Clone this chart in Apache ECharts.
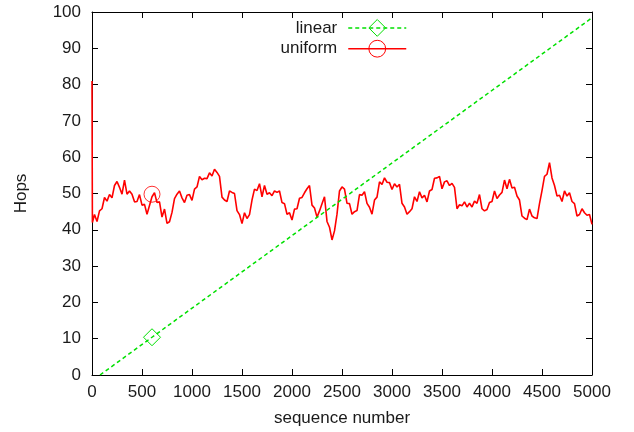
<!DOCTYPE html>
<html>
<head>
<meta charset="utf-8">
<script src="https://cdn.jsdelivr.net/npm/echarts@6/dist/echarts.min.js"></script>
<style>
html,body{margin:0;padding:0;background:#fff;}
#chart{width:634px;height:432px;}
</style>
</head>
<body>
<div id="chart"></div>
<script>
// ---- data ----
var xTicks = [0, 500, 1000, 1500, 2000, 2500, 3000, 3500, 4000, 4500, 5000];
var yTicks = [0, 10, 20, 30, 40, 50, 60, 70, 80, 90, 100];

// linear series: straight line (endpoints + marked point)
var linearSeq = [80, 600, 5000];
var linearHops = [0, 10.4, 98.4];
var linearMarkIndex = 1;

// uniform series: initial spike then samples every 25 sequence numbers
var uniformSpikeSeq = [0, 4];
var uniformSpikeHops = [81, 42];
var uniformStep = 25;
var uniformHops = [
44.2,42.3,45.2,45.8,48.9,47.9,49.7,48.8,52.2,53.3,51.7,49.8,53.7,49.8,50.7,49.8,
47.7,47.8,49.7,46.8,47.0,44.3,46.7,49.1,50.2,47.5,47.7,43.5,45.7,41.8,42.2,44.8,
48.6,49.8,50.7,48.8,47.5,49.5,49.7,48.1,51.2,51.8,54.7,53.8,54.2,54.1,55.7,54.8,
56.7,55.8,54.7,49.0,48.2,47.8,50.7,50.3,50.0,45.3,44.2,41.7,44.7,43.1,44.2,48.2,
51.2,50.8,52.7,49.1,52.2,49.8,50.2,49.4,50.7,50.3,50.7,47.5,47.2,44.3,44.7,42.7,
45.7,45.8,48.7,48.9,50.2,51.3,52.2,46.8,46.0,43.5,45.2,47.2,49.1,42.3,40.7,37.2,
39.7,44.3,50.7,51.8,51.2,47.3,47.2,44.3,45.0,45.3,49.7,49.5,50.5,47.3,46.2,44.3,
48.2,49.0,53.2,52.5,54.3,53.1,53.0,51.1,52.7,51.8,52.5,47.3,46.3,44.3,45.0,45.8,
49.1,47.8,50.5,48.8,49.5,47.7,50.7,51.1,54.2,54.3,54.7,51.3,53.2,53.5,52.2,52.8,
51.7,45.8,46.9,46.6,47.7,46.3,47.3,46.3,47.9,47.3,49.7,45.8,45.2,45.6,47.5,47.8,
50.7,48.6,49.6,50.3,53.7,51.3,53.9,51.5,51.7,49.3,48.2,43.8,43.2,42.8,45.7,43.8,
43.3,43.1,47.2,50.8,54.7,55.3,58.5,54.3,52.2,49.3,49.5,47.8,50.7,49.3,50.2,47.8,
47.2,43.8,44.2,45.8,44.7,44.0,44.2,41.5
];
var uniformMarkSeq = 600;
var uniformMarkHops = 49.8;

// ---- build series data ----
var linearData = linearSeq.map(function (s, i) {
  var item = { value: [s, linearHops[i]] };
  if (i !== linearMarkIndex) item.symbol = 'none';
  return item;
});

var uniformData = [];
uniformSpikeSeq.forEach(function (s, i) {
  uniformData.push({ value: [s, uniformSpikeHops[i]], symbol: 'none' });
});
uniformHops.forEach(function (v, i) {
  var s = (i + 1) * uniformStep;
  uniformData.push({ value: [s, v], symbol: 'none' });
});
var uniformMarkData = [{ value: [uniformMarkSeq, uniformMarkHops] }];

var FONT = 'Liberation Sans';
var txt = { fontFamily: FONT, fontSize: 17, color: '#1a1a1a' };
var plain = function (v) { return String(v); };

var chart = echarts.init(document.getElementById('chart'), null, { renderer: 'canvas' });
chart.setOption({
  animation: false,
  backgroundColor: '#ffffff',
  grid: { left: 92, right: 42, top: 12, bottom: 56, containLabel: false },
  legend: {
    orient: 'vertical',
    align: 'right',
    right: 222,
    top: 14,
    itemWidth: 58,
    itemHeight: 21,
    itemGap: 3,
    itemStyle: { borderWidth: 1 },
    lineStyle: { width: 1.5 },
    textStyle: Object.assign({ padding: [0, 6, 0, 0] }, txt),
    data: ['linear', 'uniform']
  },
  xAxis: [{
    type: 'value', min: 0, max: 5000, interval: 500,
    name: 'sequence number', nameLocation: 'middle', nameGap: 35,
    nameTextStyle: txt,
    axisLine: { show: true, lineStyle: { color: '#000', width: 1 } },
    axisTick: { show: true, inside: true, length: 6, lineStyle: { color: '#000' } },
    axisLabel: Object.assign({ margin: 9, formatter: plain }, txt),
    splitLine: { show: false }
  }, {
    type: 'value', min: 0, max: 5000, interval: 500, position: 'top',
    axisLine: { show: true, onZero: false, lineStyle: { color: '#000', width: 1 } },
    axisTick: { show: true, inside: true, length: 6, lineStyle: { color: '#000' } },
    axisLabel: { show: false },
    splitLine: { show: false }
  }],
  yAxis: [{
    type: 'value', min: 0, max: 100, interval: 10,
    name: 'Hops', nameLocation: 'middle', nameGap: 62, nameRotate: 90,
    nameTextStyle: txt,
    axisLine: { show: true, lineStyle: { color: '#000', width: 1 } },
    axisTick: { show: true, inside: true, length: 6, lineStyle: { color: '#000' } },
    axisLabel: Object.assign({ margin: 11, formatter: plain }, txt),
    splitLine: { show: false }
  }, {
    type: 'value', min: 0, max: 100, interval: 10, position: 'right',
    axisLine: { show: true, onZero: false, lineStyle: { color: '#000', width: 1 } },
    axisTick: { show: true, inside: true, length: 6, lineStyle: { color: '#000' } },
    axisLabel: { show: false },
    splitLine: { show: false }
  }],
  series: [{
    name: 'linear', type: 'line',
    data: linearData,
    symbol: 'diamond', symbolSize: 17,
    showSymbol: true,
    lineStyle: { color: '#00e000', width: 1.5, type: [4, 3] },
    itemStyle: { color: 'rgba(0,0,0,0)', borderColor: '#00e000', borderWidth: 1 },
    z: 3
  }, {
    name: 'uniform', type: 'line',
    data: uniformData,
    symbol: 'circle', symbolSize: 16,
    showSymbol: true,
    lineStyle: { color: '#ff0000', width: 1.6 },
    itemStyle: { color: 'rgba(0,0,0,0)', borderColor: '#ff0000', borderWidth: 1 },
    z: 2
  }, {
    name: 'uniform', type: 'scatter',
    data: uniformMarkData,
    symbol: 'circle', symbolSize: 16,
    itemStyle: { color: 'rgba(0,0,0,0)', borderColor: '#ff0000', borderWidth: 1 },
    z: 4
  }]
});
</script>
</body>
</html>
